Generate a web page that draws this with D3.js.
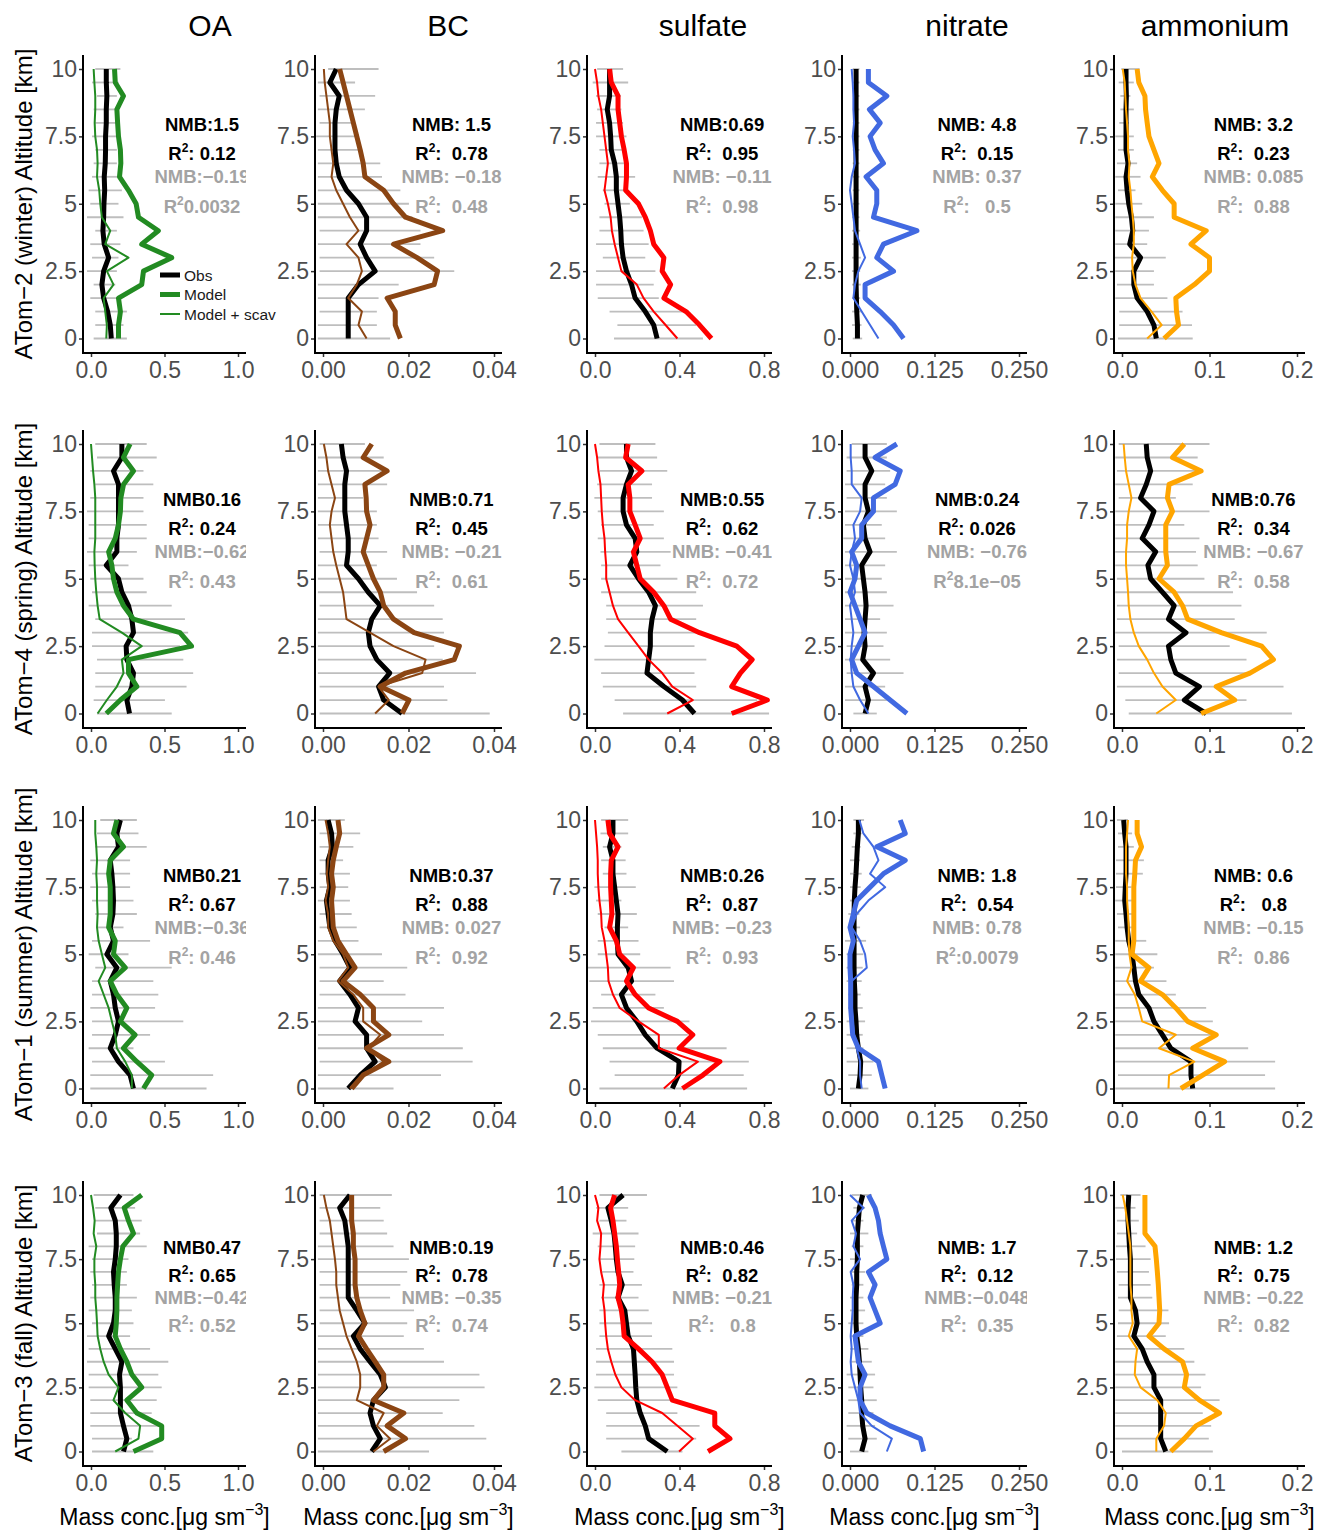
<!DOCTYPE html>
<html>
<head>
<meta charset="utf-8">
<script src="https://cdn.jsdelivr.net/npm/d3@7"></script>
<style>
body { margin: 0; background: #fff; }
text { font-family: "Liberation Sans", Arial, Helvetica, sans-serif; }
</style>
</head>
<body>
<svg id="chart" width="1331" height="1535"></svg>
<script>
// ---- data (altitude 0 -> 10 km), one row per campaign: winter, spring, summer, fall
const altitude = [0,0.5,1,1.5,2,2.5,3,3.5,4,4.5,5,5.5,6,6.5,7,7.5,8,8.5,9,9.5,10]
const species = ['OA', 'BC', 'sulfate', 'nitrate', 'ammonium']
const campaigns = ['ATom\u22122 (winter)', 'ATom\u22124 (spring)', 'ATom\u22121 (summer)', 'ATom\u22123 (fall)']
const xMax = [1.0, 0.04, 0.8, 0.25, 0.2]
const xTickValues = [[0, 0.5, 1], [0, 0.02, 0.04], [0, 0.4, 0.8], [0, 0.125, 0.25], [0, 0.1, 0.2]]
const xTickLabels = [['0.0','0.5','1.0'], ['0.00','0.02','0.04'], ['0.0','0.4','0.8'], ['0.000','0.125','0.250'], ['0.0','0.1','0.2']]
const yTickValues = [0, 2.5, 5, 7.5, 10]
const yTickLabels = ['0', '2.5', '5', '7.5', '10']

const OA_obs = [
  [0.138,0.131,0.113,0.086,0.074,0.086,0.12,0.09,0.081,0.086,0.088,0.093,0.09,0.097,0.099,0.099,0.104,0.104,0.108,0.104,0.104],
  [0.262,0.244,0.278,0.289,0.244,0.239,0.289,0.278,0.255,0.21,0.187,0.104,0.176,0.176,0.187,0.187,0.187,0.187,0.153,0.21,0.21],
  [0.289,0.266,0.187,0.131,0.165,0.187,0.165,0.153,0.131,0.176,0.108,0.153,0.131,0.149,0.153,0.149,0.142,0.131,0.187,0.176,0.2],
  [0.221,0.244,0.221,0.2,0.2,0.2,0.194,0.21,0.165,0.12,0.153,0.165,0.165,0.158,0.153,0.165,0.172,0.172,0.165,0.135,0.2]
]
const OA_model = [
  [0.187,0.187,0.2,0.187,0.345,0.357,0.549,0.345,0.458,0.323,0.307,0.255,0.194,0.203,0.2,0.187,0.181,0.176,0.221,0.165,0.16],
  [0.104,0.2,0.312,0.255,0.255,0.684,0.605,0.289,0.221,0.176,0.153,0.142,0.12,0.165,0.187,0.2,0.203,0.221,0.289,0.221,0.266],
  [0.357,0.413,0.312,0.221,0.3,0.2,0.244,0.176,0.131,0.233,0.153,0.165,0.12,0.131,0.131,0.131,0.12,0.131,0.221,0.153,0.176],
  [0.289,0.481,0.481,0.312,0.244,0.345,0.278,0.244,0.2,0.165,0.172,0.176,0.176,0.181,0.187,0.2,0.217,0.289,0.255,0.226,0.345]
]
const OA_scav = [
  [0.104,0.108,0.097,0.086,0.153,0.108,0.255,0.097,0.131,0.074,0.063,0.056,0.041,0.045,0.041,0.029,0.025,0.029,0.029,0.023,0.018],
  [0.045,0.108,0.176,0.221,0.21,0.345,0.21,0.059,0.045,0.036,0.029,0.025,0.023,0.029,0.029,0.029,0.029,0.023,0.014,0.007,0.0],
  [0.278,0.278,0.233,0.176,0.165,0.142,0.12,0.086,0.052,0.097,0.074,0.052,0.041,0.045,0.041,0.041,0.036,0.041,0.036,0.029,0.029],
  [0.165,0.323,0.334,0.233,0.153,0.187,0.12,0.086,0.063,0.045,0.041,0.036,0.029,0.029,0.023,0.023,0.036,0.018,0.025,0.014,0.0]
]
const OA_low = [
  [0.018,0.029,0.029,-0.005,0.018,-0.027,0.007,-0.005,0.029,-0.027,-0.005,-0.016,0.007,0.018,0.029,0.007,0.029,0.018,0.041,0.007,0.029],
  [0.041,0.018,0.029,0.029,0.041,0.007,0.007,0.029,-0.016,0.007,-0.005,-0.016,-0.027,-0.016,-0.016,-0.027,-0.005,0.029,-0.005,0.041,0.029],
  [-0.005,-0.005,0.007,-0.016,0.007,0.007,-0.005,0.007,0.007,0.029,-0.016,0.007,0.041,0.029,0.007,-0.005,0.007,-0.005,0.029,0.041,0.063],
  [0.007,0.007,-0.005,-0.005,-0.005,-0.016,-0.016,-0.027,-0.016,-0.027,0.007,-0.016,-0.005,0.007,-0.005,0.007,-0.016,0.041,0.029,0.029,0.018]
]
const OA_high = [
  [0.244,0.221,0.244,0.176,0.165,0.176,0.187,0.2,0.176,0.221,0.187,0.21,0.187,0.176,0.176,0.176,0.176,0.187,0.176,0.187,0.2],
  [0.549,0.503,0.65,0.695,0.628,0.605,0.661,0.639,0.549,0.379,0.357,0.255,0.312,0.379,0.379,0.357,0.357,0.424,0.357,0.447,0.379],
  [0.786,0.831,0.503,0.289,0.402,0.628,0.436,0.458,0.424,0.549,0.255,0.402,0.221,0.312,0.289,0.266,0.266,0.266,0.379,0.323,0.312],
  [0.424,0.278,0.492,0.413,0.447,0.481,0.458,0.526,0.402,0.266,0.289,0.278,0.312,0.244,0.244,0.255,0.379,0.334,0.345,0.3,0.289]
]

const BC_obs = [
  [0.0059,0.0059,0.0059,0.0059,0.0083,0.0122,0.0102,0.0087,0.0102,0.0102,0.0083,0.0055,0.0038,0.0031,0.0028,0.0028,0.0028,0.0031,0.0038,0.0016,0.0031],
  [0.0185,0.0142,0.013,0.0156,0.0126,0.011,0.0106,0.0114,0.0134,0.0106,0.0083,0.0055,0.0059,0.0059,0.0055,0.0051,0.0051,0.0051,0.0055,0.0047,0.0043],
  [0.0059,0.0087,0.0122,0.0102,0.0102,0.0075,0.0083,0.0063,0.0039,0.0063,0.0047,0.0028,0.0016,0.0012,0.0008,0.0016,0.0012,0.0012,0.0022,0.002,0.0012],
  [0.0114,0.0134,0.0118,0.011,0.0118,0.0146,0.0134,0.011,0.0087,0.0071,0.0098,0.0079,0.0059,0.0059,0.0059,0.0059,0.0059,0.0055,0.0051,0.0039,0.0063]
]
const BC_model = [
  [0.0181,0.0169,0.0169,0.015,0.026,0.0268,0.022,0.0165,0.028,0.0193,0.0165,0.0142,0.0098,0.0094,0.0087,0.0079,0.0071,0.0063,0.0055,0.0047,0.0039],
  [0.0185,0.0201,0.0134,0.0193,0.0307,0.0319,0.0213,0.0165,0.0142,0.0134,0.0118,0.0106,0.0094,0.0102,0.011,0.0102,0.0101,0.0098,0.015,0.0094,0.0114],
  [0.0067,0.0094,0.0154,0.0102,0.0154,0.0118,0.0118,0.0087,0.0047,0.0075,0.0055,0.0035,0.0024,0.0022,0.002,0.0024,0.002,0.0024,0.0031,0.0039,0.0035],
  [0.0142,0.0193,0.015,0.0189,0.0118,0.0142,0.0142,0.0122,0.0102,0.0083,0.0098,0.0087,0.0079,0.0075,0.0075,0.0075,0.0071,0.0071,0.0067,0.0067,0.0067]
]
const BC_scav = [
  [0.0102,0.0083,0.0091,0.0059,0.0079,0.0091,0.0083,0.0055,0.0083,0.0063,0.0047,0.0031,0.002,0.0024,0.002,0.0016,0.0016,0.0012,0.0008,0.0004,0.0002],
  [0.0122,0.0154,0.013,0.0232,0.024,0.0165,0.011,0.0055,0.0051,0.0047,0.0039,0.0031,0.0024,0.002,0.0016,0.002,0.0028,0.002,0.0012,0.0008,0.0002],
  [0.0063,0.0094,0.0142,0.0106,0.0134,0.0094,0.0094,0.0071,0.0035,0.0059,0.0047,0.0024,0.0012,0.0012,0.0006,0.0012,0.0009,0.0012,0.0016,0.0012,0.0006],
  [0.0118,0.0157,0.0126,0.0142,0.0079,0.0087,0.0087,0.0079,0.0067,0.0055,0.0047,0.0039,0.0035,0.0031,0.0031,0.0028,0.0024,0.002,0.0016,0.0008,0.0002]
]
const BC_low = [
  [-0.0012,-0.0012,-0.0008,-0.0012,-0.0012,-0.0008,-0.0008,-0.0012,-0.0008,-0.0012,-0.0012,-0.0012,-0.0012,-0.0012,-0.0012,-0.0016,-0.0008,-0.0012,-0.0008,-0.0012,0.0012],
  [-0.0008,-0.0008,-0.0008,-0.0012,-0.0012,-0.0012,-0.0012,-0.0012,-0.0008,-0.0012,-0.0012,-0.0012,-0.0008,-0.0012,-0.0012,-0.0012,-0.0012,-0.0012,-0.0012,-0.0012,-0.0008],
  [-0.0012,-0.0012,-0.0008,-0.0012,-0.0012,-0.0012,-0.0012,-0.0008,-0.0008,-0.0008,-0.0012,-0.0012,-0.0008,-0.0008,-0.0012,-0.0008,-0.0008,-0.0008,-0.0008,-0.0008,-0.0012],
  [-0.0012,-0.0012,-0.0012,-0.0012,-0.0012,-0.0012,-0.0012,-0.0012,-0.0012,-0.0012,-0.0008,-0.0008,-0.0008,-0.0008,-0.0008,-0.0012,-0.0012,-0.0008,-0.0008,-0.0008,-0.0008]
]
const BC_high = [
  [0.0157,0.0126,0.0126,0.013,0.0177,0.0307,0.026,0.0228,0.0228,0.0209,0.0201,0.0181,0.0138,0.0134,0.0087,0.0083,0.0075,0.0098,0.0122,0.0075,0.013],
  [0.039,0.0291,0.0283,0.0358,0.028,0.026,0.0283,0.028,0.026,0.022,0.0173,0.0126,0.015,0.013,0.0126,0.0126,0.0094,0.015,0.0154,0.0142,0.0098],
  [0.0165,0.0276,0.035,0.0327,0.0283,0.0232,0.0283,0.0193,0.0142,0.0197,0.0138,0.0083,0.0079,0.0067,0.0063,0.0059,0.0063,0.0047,0.0071,0.0087,0.0051],
  [0.0248,0.0382,0.0354,0.028,0.0319,0.0378,0.0366,0.0283,0.0236,0.0189,0.0197,0.0213,0.0157,0.0181,0.0197,0.0201,0.0165,0.015,0.0142,0.0134,0.0161]
]

const sulfate_obs = [
  [0.294,0.278,0.238,0.19,0.173,0.149,0.133,0.125,0.122,0.117,0.109,0.101,0.101,0.093,0.077,0.074,0.069,0.058,0.069,0.069,0.069],
  [0.471,0.414,0.326,0.246,0.254,0.262,0.262,0.27,0.286,0.254,0.206,0.165,0.198,0.19,0.149,0.133,0.133,0.149,0.173,0.149,0.149],
  [0.366,0.395,0.398,0.294,0.238,0.198,0.149,0.125,0.173,0.157,0.109,0.106,0.106,0.109,0.101,0.093,0.085,0.085,0.069,0.085,0.085],
  [0.342,0.254,0.238,0.214,0.198,0.193,0.19,0.186,0.182,0.157,0.149,0.141,0.109,0.129,0.109,0.101,0.096,0.09,0.077,0.061,0.133]
]
const sulfate_model = [
  [0.551,0.495,0.431,0.326,0.358,0.318,0.326,0.278,0.262,0.238,0.206,0.145,0.149,0.149,0.138,0.125,0.117,0.109,0.109,0.077,0.069],
  [0.647,0.816,0.647,0.688,0.744,0.671,0.495,0.358,0.326,0.278,0.214,0.198,0.182,0.214,0.19,0.165,0.165,0.157,0.222,0.145,0.157],
  [0.414,0.511,0.591,0.398,0.463,0.39,0.254,0.19,0.149,0.182,0.117,0.101,0.069,0.08,0.077,0.074,0.074,0.077,0.109,0.069,0.061],
  [0.535,0.639,0.567,0.567,0.366,0.342,0.318,0.27,0.206,0.138,0.133,0.125,0.109,0.117,0.112,0.106,0.101,0.093,0.085,0.074,0.093]
]
const sulfate_scav = [
  [0.39,0.334,0.278,0.23,0.198,0.125,0.109,0.093,0.08,0.074,0.061,0.045,0.053,0.061,0.053,0.045,0.037,0.029,0.016,0.01,0.0],
  [0.342,0.463,0.366,0.318,0.254,0.206,0.157,0.109,0.085,0.069,0.053,0.053,0.048,0.045,0.037,0.032,0.029,0.026,0.016,0.01,0.0],
  [0.326,0.398,0.487,0.302,0.302,0.206,0.117,0.085,0.064,0.061,0.053,0.045,0.032,0.029,0.021,0.016,0.013,0.013,0.01,0.005,0.0],
  [0.398,0.463,0.39,0.318,0.19,0.125,0.096,0.077,0.061,0.053,0.048,0.045,0.037,0.042,0.029,0.021,0.026,0.029,0.01,0.016,0.0]
]
const sulfate_low = [
  [0.09,0.106,0.069,0.013,0.005,0.005,0.037,0.005,0.021,0.021,0.045,0.037,0.013,0.021,0.021,0.005,0.005,0.01,0.005,-0.011,0.01],
  [0.133,0.093,0.037,0.029,-0.003,0.045,0.061,0.053,0.053,0.029,0.029,0.029,0.026,0.013,0.029,0.013,-0.003,0.01,0.021,0.01,0.021],
  [0.021,0.093,0.069,0.037,0.013,-0.019,-0.011,0.029,-0.027,-0.035,0.013,0.013,0.045,0.013,0.005,-0.003,0.037,0.029,0.037,0.026,0.029],
  [0.125,0.053,0.053,0.053,0.013,-0.003,0.005,0.005,0.005,0.021,0.021,0.021,0.029,0.021,0.029,0.021,0.013,-0.011,0.021,0.005,0.021]
]
const sulfate_high = [
  [0.511,0.479,0.414,0.302,0.278,0.286,0.238,0.254,0.23,0.222,0.165,0.141,0.19,0.149,0.141,0.149,0.133,0.125,0.122,0.157,0.133],
  [0.824,0.768,0.479,0.471,0.527,0.471,0.503,0.479,0.511,0.479,0.39,0.31,0.358,0.326,0.278,0.326,0.27,0.27,0.342,0.294,0.286],
  [0.72,0.704,0.728,0.623,0.439,0.447,0.326,0.286,0.374,0.358,0.214,0.206,0.157,0.198,0.125,0.193,0.149,0.145,0.125,0.157,0.157],
  [0.414,0.479,0.495,0.39,0.366,0.39,0.374,0.374,0.366,0.27,0.27,0.254,0.206,0.222,0.182,0.186,0.19,0.206,0.149,0.157,0.246]
]

const nitrate_obs = [
  [0.011,0.011,0.01,0.0095,0.009,0.009,0.009,0.009,0.009,0.009,0.009,0.009,0.009,0.009,0.009,0.009,0.009,0.009,0.009,0.009,0.009],
  [0.0223,0.0272,0.0223,0.0347,0.0188,0.0223,0.0208,0.0223,0.0238,0.0223,0.0198,0.0173,0.0297,0.0223,0.0198,0.0272,0.0223,0.0223,0.0322,0.0223,0.0223],
  [0.0124,0.0149,0.0158,0.0124,0.0099,0.0089,0.0074,0.0074,0.0064,0.006,0.006,0.006,0.006,0.006,0.0064,0.0074,0.0089,0.0099,0.0109,0.0124,0.0124],
  [0.0173,0.0223,0.0188,0.0173,0.0173,0.0158,0.0149,0.0139,0.0124,0.0099,0.0089,0.0089,0.0089,0.0099,0.0099,0.0109,0.0109,0.0109,0.0124,0.0139,0.0188]
]
const nitrate_model = [
  [0.0792,0.0644,0.0446,0.0223,0.0223,0.0644,0.0396,0.0495,0.099,0.0347,0.0396,0.0396,0.0238,0.0495,0.0371,0.0297,0.0446,0.0287,0.0545,0.0272,0.0272],
  [0.0842,0.0594,0.0347,0.0099,0.0025,0.0124,0.0223,0.0149,0.0074,0.0,0.0074,0.0099,0.0025,0.0173,0.0173,0.0347,0.0347,0.0668,0.0743,0.0371,0.0693],
  [0.052,0.047,0.0421,0.0124,0.004,0.0025,0.001,0.001,0.001,0.0,0.0,0.005,0.0,0.005,0.0099,0.0297,0.0495,0.0817,0.0396,0.0817,0.0743],
  [0.1089,0.104,0.0594,0.0248,0.0149,0.0149,0.0223,0.0124,0.0099,0.0074,0.0446,0.0371,0.0297,0.0371,0.0272,0.0545,0.0495,0.0446,0.0421,0.0371,0.0272]
]
const nitrate_scav = [
  [0.0421,0.0297,0.0173,0.005,0.0074,0.0124,0.0223,0.0149,0.0074,0.005,0.0025,0.0,0.0025,0.0074,0.006,0.004,0.006,0.005,0.005,0.004,0.0025],
  [0.0272,0.0149,0.005,0.0025,0.001,0.0025,0.005,0.0025,0.0,0.0074,0.005,0.0,0.0025,0.0074,0.005,0.0149,0.0173,0.0025,0.0025,0.001,0.001],
  [0.0173,0.0149,0.0149,0.0099,0.006,0.004,0.0025,0.0025,0.0025,0.0248,0.0223,0.0149,0.0025,0.0099,0.0272,0.052,0.0297,0.0421,0.0347,0.0198,0.0139],
  [0.0545,0.0619,0.0322,0.0149,0.0124,0.0074,0.0025,0.001,0.0025,0.001,0.0025,0.004,0.004,0.005,0.001,0.0149,0.005,0.0089,0.0025,0.0198,0.0]
]
const nitrate_low = [
  [0.004,0.003,0.003,0.003,0.003,0.003,0.003,0.003,0.003,0.003,0.004,0.004,0.004,0.004,0.004,0.004,0.004,0.004,0.004,0.004,0.004],
  [0.005,-0.0074,-0.0074,-0.005,-0.0074,-0.005,-0.0074,-0.0074,-0.0074,-0.0074,-0.0074,-0.0074,-0.0074,-0.0099,-0.0074,-0.0074,-0.005,-0.0074,-0.005,-0.005,0.0025],
  [0.0,-0.0025,-0.005,-0.005,-0.005,-0.005,-0.0025,-0.0025,-0.005,-0.005,-0.005,-0.0074,0.0,-0.0025,0.0,0.0,0.0,0.0,0.0025,0.005,0.005],
  [0.0,-0.0025,-0.005,-0.0025,-0.0025,-0.0025,-0.005,0.0,0.0,0.0,-0.0025,0.0,0.0,0.0025,0.0,0.0,0.0025,0.0,0.0025,0.005,0.0025]
]
const nitrate_high = [
  [0.018,0.017,0.016,0.015,0.016,0.015,0.016,0.015,0.015,0.014,0.014,0.014,0.014,0.014,0.014,0.014,0.014,0.014,0.014,0.014,0.014],
  [0.0396,0.0545,0.052,0.0792,0.0594,0.0495,0.0545,0.0446,0.0644,0.0545,0.047,0.052,0.0693,0.052,0.047,0.0693,0.0545,0.052,0.0594,0.0545,0.0545],
  [0.0272,0.0322,0.0347,0.0198,0.0188,0.0223,0.0188,0.0158,0.0173,0.0188,0.0198,0.0238,0.0149,0.0139,0.0139,0.0158,0.0173,0.0149,0.0158,0.0173,0.0208],
  [0.0272,0.0396,0.0371,0.0347,0.0396,0.0347,0.0371,0.0322,0.0272,0.0198,0.0198,0.0223,0.0198,0.0198,0.0223,0.0149,0.0198,0.0272,0.0198,0.0223,0.0322]
]

const ammonium_obs = [
  [0.0392,0.0365,0.0288,0.0173,0.0135,0.0135,0.0212,0.0088,0.0123,0.0108,0.0077,0.0058,0.0046,0.0069,0.0046,0.0046,0.0046,0.0046,0.005,0.0046,0.0046],
  [0.0962,0.0712,0.0885,0.0615,0.0558,0.0531,0.0731,0.0531,0.0596,0.0462,0.0327,0.0296,0.0385,0.0231,0.0308,0.0365,0.0212,0.0277,0.0327,0.0288,0.0277],
  [0.0808,0.0788,0.0788,0.0558,0.0462,0.0365,0.0308,0.0192,0.0154,0.0135,0.0115,0.0077,0.0058,0.0046,0.0031,0.0038,0.0046,0.0046,0.0046,0.0031,0.0019],
  [0.05,0.0442,0.0442,0.0442,0.0442,0.0365,0.0365,0.0288,0.0231,0.0135,0.0173,0.0154,0.0096,0.0096,0.0096,0.0096,0.0085,0.0077,0.0069,0.0069,0.0077]
]
const ammonium_model = [
  [0.0481,0.0646,0.0623,0.0615,0.0827,0.1,0.1,0.0788,0.0962,0.0596,0.0596,0.0462,0.0346,0.0423,0.0365,0.0308,0.0288,0.0269,0.0262,0.0192,0.0173],
  [0.0904,0.1288,0.1077,0.1462,0.1731,0.1596,0.1135,0.075,0.0692,0.0596,0.0423,0.0519,0.05,0.05,0.05,0.0577,0.0519,0.0538,0.0904,0.0577,0.0712],
  [0.0673,0.0923,0.1173,0.0808,0.1077,0.075,0.0615,0.0462,0.0212,0.0308,0.0115,0.0135,0.0135,0.0135,0.0135,0.0135,0.0146,0.0154,0.0223,0.0173,0.0173],
  [0.0558,0.0712,0.0846,0.1115,0.0885,0.0712,0.0738,0.0692,0.0481,0.0308,0.0423,0.0431,0.0423,0.0415,0.0404,0.0392,0.0377,0.0262,0.0262,0.0262,0.0262]
]
const ammonium_scav = [
  [0.0288,0.0454,0.0338,0.0212,0.0154,0.0123,0.0115,0.0135,0.0135,0.0123,0.0108,0.0096,0.0077,0.0085,0.0069,0.0069,0.0058,0.0046,0.0038,0.0031,0.0008],
  [0.0392,0.0615,0.0462,0.0365,0.0288,0.0192,0.0135,0.0096,0.0077,0.0069,0.0058,0.0046,0.0046,0.0058,0.0058,0.0077,0.0108,0.0077,0.0046,0.0031,0.0019],
  [0.0531,0.0538,0.0827,0.0423,0.0615,0.0231,0.0192,0.0146,0.0058,0.0108,0.0085,0.0077,0.0077,0.0069,0.0058,0.0058,0.0046,0.0046,0.0046,0.0058,0.0069],
  [0.0392,0.0392,0.0481,0.05,0.0404,0.0212,0.0146,0.0154,0.0173,0.0077,0.0123,0.0108,0.0108,0.0096,0.0096,0.0096,0.0096,0.0077,0.0058,0.0038,0.0008]
]
const ammonium_low = [
  [-0.0046,-0.0031,-0.0031,-0.0077,-0.0058,-0.0077,-0.0096,-0.0077,-0.0077,-0.0077,-0.0077,-0.0046,-0.0077,-0.0058,-0.0046,-0.0077,-0.0031,-0.0019,-0.0019,-0.0038,-0.0008],
  [0.0077,0.0038,-0.0058,-0.0038,-0.0058,-0.0038,-0.0077,-0.0058,-0.0058,-0.0077,-0.0058,-0.0077,-0.0077,-0.0077,-0.0077,-0.0077,-0.0038,-0.0077,-0.0058,-0.0077,-0.0038],
  [-0.0077,-0.0046,-0.0077,-0.0077,-0.0077,-0.0077,-0.0077,-0.0077,-0.0077,-0.0077,-0.0077,-0.0077,-0.0046,-0.0058,-0.0077,-0.0069,-0.0069,-0.0069,-0.0046,-0.0046,-0.0058],
  [0.0,-0.0077,-0.0077,-0.0077,-0.0077,-0.0077,-0.0077,-0.0077,-0.0077,-0.0058,-0.0046,-0.0038,-0.0046,-0.0038,-0.0058,-0.0069,-0.0069,-0.0058,-0.0058,-0.0077,-0.0019]
]
const ammonium_high = [
  [0.0808,0.08,0.0692,0.0519,0.0365,0.0365,0.05,0.0288,0.0308,0.0365,0.0231,0.0154,0.0212,0.0173,0.0135,0.0135,0.0077,0.0135,0.0096,0.0135,0.02],
  [0.1942,0.1423,0.1846,0.1423,0.1423,0.1231,0.1654,0.1288,0.1365,0.1269,0.0942,0.0865,0.0846,0.0885,0.0712,0.1,0.0615,0.0808,0.0923,0.0865,0.1],
  [0.175,0.1635,0.175,0.1442,0.1096,0.1038,0.0962,0.0615,0.0508,0.0365,0.0404,0.0277,0.0135,0.0115,0.0115,0.0108,0.0238,0.025,0.0135,0.0115,0.0069],
  [0.1038,0.0992,0.1019,0.0923,0.1115,0.0904,0.0954,0.0827,0.0712,0.05,0.0538,0.0531,0.0346,0.0327,0.0308,0.0327,0.0269,0.0173,0.0192,0.0154,0.0212]
]

// statistics labels (model vs obs in black, model + scav vs obs in grey)
const nmbModel = [
  ['NMB:1.5', 'NMB: 1.5', 'NMB:0.69', 'NMB: 4.8', 'NMB: 3.2'],
  ['NMB0.16', 'NMB:0.71', 'NMB:0.55', 'NMB:0.24', 'NMB:0.76'],
  ['NMB0.21', 'NMB:0.37', 'NMB:0.26', 'NMB: 1.8', 'NMB: 0.6'],
  ['NMB0.47', 'NMB:0.19', 'NMB:0.46', 'NMB: 1.7', 'NMB: 1.2']
]
const r2Model = [
  [': 0.12', ':  0.78', ':  0.95', ':  0.15', ':  0.23'],
  [': 0.24', ':  0.45', ':  0.62', ': 0.026', ':  0.34'],
  [': 0.67', ':  0.88', ':  0.87', ':  0.54', ':   0.8'],
  [': 0.65', ':  0.78', ':  0.82', ':  0.12', ':  0.75']
]
const nmbScav = [
  ['NMB:\u22120.19', 'NMB: \u22120.18', 'NMB: \u22120.11', 'NMB: 0.37', 'NMB: 0.085'],
  ['NMB:\u22120.62', 'NMB: \u22120.21', 'NMB: \u22120.41', 'NMB: \u22120.76', 'NMB: \u22120.67'],
  ['NMB:\u22120.36', 'NMB: 0.027', 'NMB: \u22120.23', 'NMB: 0.78', 'NMB: \u22120.15'],
  ['NMB:\u22120.42', 'NMB: \u22120.35', 'NMB: \u22120.21', 'NMB:\u22120.048', 'NMB: \u22120.22']
]
const r2Scav = [
  ['0.0032', ':  0.48', ':  0.98', ':   0.5', ':  0.88'],
  [': 0.43', ':  0.61', ':  0.72', '8.1e\u221205', ':  0.58'],
  [': 0.46', ':  0.92', ':  0.93', ':0.0079', ':  0.86'],
  [': 0.52', ':  0.74', ':   0.8', ':  0.35', ':  0.82']
]

// ---- layout
const colLeft = [83, 315, 587, 842, 1114]
const colRight = [246, 502, 772, 1027, 1305]
const rowTop = [55, 430, 806, 1181]
const rowBottom = [353, 728, 1103, 1466]
const titleX = [210, 448, 703, 967, 1215]
const colors = ['#228B22', '#8B4513', '#FF0000', '#4169E1', '#FFA500']

const series = {
  OA: {obs: OA_obs, model: OA_model, scav: OA_scav, low: OA_low, high: OA_high},
  BC: {obs: BC_obs, model: BC_model, scav: BC_scav, low: BC_low, high: BC_high},
  sulfate: {obs: sulfate_obs, model: sulfate_model, scav: sulfate_scav, low: sulfate_low, high: sulfate_high},
  nitrate: {obs: nitrate_obs, model: nitrate_model, scav: nitrate_scav, low: nitrate_low, high: nitrate_high},
  ammonium: {obs: ammonium_obs, model: ammonium_model, scav: ammonium_scav, low: ammonium_low, high: ammonium_high}
}

const svg = d3.select('#chart')
svg.append('rect').attr('width', 1331).attr('height', 1535).attr('fill', '#fff')
const defs = svg.append('defs')

function r2Text(sel, rest) {
  sel.append('tspan').text('R')
  sel.append('tspan').text('2').attr('font-size', 12).attr('dy', -8)
  sel.append('tspan').text(rest).attr('dy', 8)
}

species.forEach((sp, c) => {
  // column title
  svg.append('text')
    .attr('x', titleX[c]).attr('y', 36)
    .attr('text-anchor', 'middle')
    .attr('font-size', 30)
    .attr('fill', '#000')
    .text(sp)

  campaigns.forEach((camp, r) => {
    const left = colLeft[c], right = colRight[c], top = rowTop[r], bottom = rowBottom[r]
    const x = d3.scaleLinear().domain([0, xMax[c]]).range([left + 8, right - 8])
    const y = d3.scaleLinear().domain([0, 10]).range([bottom - 14.5, top + 14])
    const d = series[sp]

    const clipId = `clip-${c}-${r}`
    defs.append('clipPath').attr('id', clipId)
      .append('rect').attr('x', left).attr('y', top).attr('width', right - left).attr('height', bottom - top)

    const g = svg.append('g').attr('clip-path', `url(#${clipId})`)

    // observation range bars
    g.selectAll('.err').data(altitude).enter().append('line')
      .attr('x1', (a, i) => x(d.low[r][i]))
      .attr('x2', (a, i) => x(d.high[r][i]))
      .attr('y1', a => y(a)).attr('y2', a => y(a))
      .attr('stroke', '#bebebe').attr('stroke-width', 1.8)

    const line = vals => d3.line()
      .x((a, i) => x(vals[i]))
      .y(a => y(a))(altitude)

    g.append('path').attr('d', line(d.obs[r]))
      .attr('fill', 'none').attr('stroke', '#000').attr('stroke-width', 5).attr('stroke-linejoin', 'round')
    g.append('path').attr('d', line(d.model[r]))
      .attr('fill', 'none').attr('stroke', colors[c]).attr('stroke-width', 5).attr('stroke-linejoin', 'round')
    g.append('path').attr('d', line(d.scav[r]))
      .attr('fill', 'none').attr('stroke', colors[c]).attr('stroke-width', 2).attr('stroke-linejoin', 'round')

    // statistics text
    const tx = left + 0.73 * (right - left)
    const stat = (yy, fill) => g.append('text')
      .attr('x', tx).attr('y', y(yy))
      .attr('text-anchor', 'middle')
      .attr('font-size', 18.5).attr('font-weight', 'bold')
      .attr('fill', fill)
      .style('white-space', 'pre')
    stat(7.7, '#000').text(nmbModel[r][c])
    r2Text(stat(6.62, '#000'), r2Model[r][c])
    stat(5.76, '#a3a3a3').text(nmbScav[r][c])
    r2Text(stat(4.64, '#a3a3a3'), r2Scav[r][c])

    // axes
    const yAxis = d3.axisLeft(y).tickValues(yTickValues)
      .tickFormat((v, i) => yTickLabels[i]).tickSize(4).tickPadding(2).tickSizeOuter(0)
    const ya = svg.append('g').attr('transform', `translate(${left},0)`).call(yAxis)
    ya.select('.domain').remove()
    ya.selectAll('.tick line').attr('stroke', '#333').attr('stroke-width', 1.5)
    ya.selectAll('.tick text').attr('font-size', 23).attr('fill', '#4d4d4d')
      .attr('font-family', '"Liberation Sans", Arial, sans-serif')

    const xAxis = d3.axisBottom(x).tickValues(xTickValues[c])
      .tickFormat((v, i) => xTickLabels[c][i]).tickSize(4).tickPadding(5).tickSizeOuter(0)
    const xa = svg.append('g').attr('transform', `translate(0,${bottom})`).call(xAxis)
    xa.select('.domain').remove()
    xa.selectAll('.tick line').attr('stroke', '#333').attr('stroke-width', 1.5)
    xa.selectAll('.tick text').attr('font-size', 23).attr('fill', '#4d4d4d')
      .attr('font-family', '"Liberation Sans", Arial, sans-serif')

    svg.append('path')
      .attr('d', `M${left},${top}V${bottom}H${right}`)
      .attr('fill', 'none').attr('stroke', '#000').attr('stroke-width', 2)

    // row titles on the first column
    if (c === 0) {
      svg.append('text')
        .attr('transform', `translate(32,${(top + bottom) / 2}) rotate(-90)`)
        .attr('text-anchor', 'middle')
        .attr('font-size', 24)
        .attr('fill', '#000')
        .text(`${camp} Altitude [km]`)
    }
    // x-axis titles on the last row
    if (r === campaigns.length - 1) {
      const t = svg.append('text')
        .attr('x', (left + right) / 2).attr('y', 1525)
        .attr('text-anchor', 'middle')
        .attr('font-size', 23)
        .attr('fill', '#000')
      t.append('tspan').text('Mass conc.[\u03bcg sm')
      t.append('tspan').text('\u22123').attr('font-size', 16).attr('dy', -10)
      t.append('tspan').text(']').attr('dy', 10)
    }
  })
})

// legend (first panel)
const legend = [
  {label: 'Obs', color: '#000', width: 5},
  {label: 'Model', color: colors[0], width: 5},
  {label: 'Model + scav', color: colors[0], width: 2}
]
const lg = svg.append('g').attr('transform', 'translate(160,275)')
legend.forEach((item, i) => {
  lg.append('line').attr('x1', 0).attr('x2', 20).attr('y1', i * 19.5).attr('y2', i * 19.5)
    .attr('stroke', item.color).attr('stroke-width', item.width)
  lg.append('text').attr('x', 24).attr('y', i * 19.5 + 5.5)
    .attr('font-size', 15.5).attr('fill', '#1a1a1a')
    .text(item.label)
})
</script>
</body>
</html>
